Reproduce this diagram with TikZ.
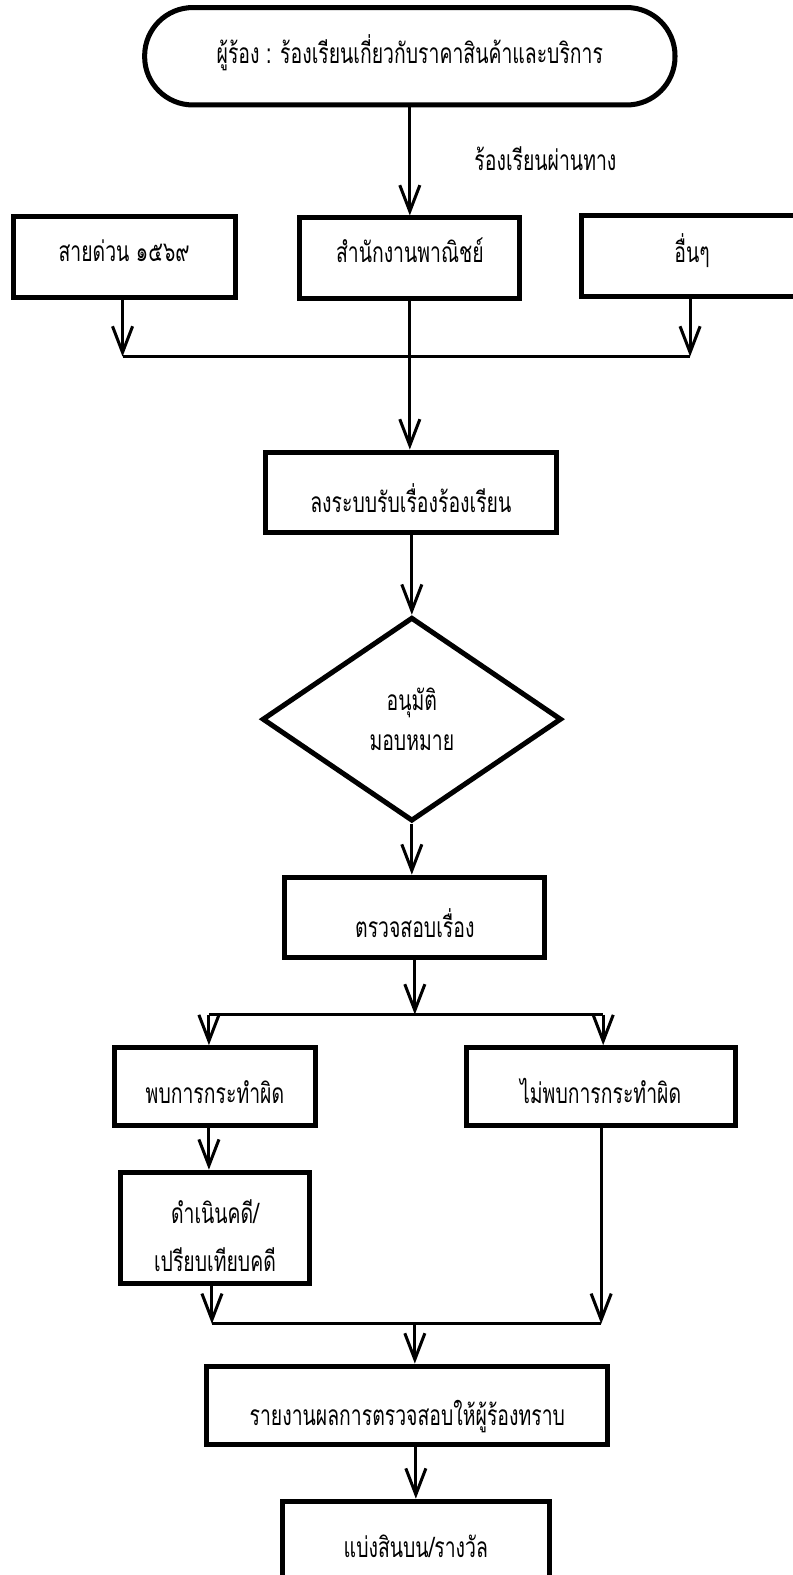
\documentclass[tikz,border=0pt]{standalone}
\usepackage{fontspec}
\newfontfamily\thaifont[Script=Thai,FakeStretch=0.69]{Loma}
\usetikzlibrary{arrows.meta,shapes.geometric}
\begin{document}
\begin{tikzpicture}[x=1pt,y=-1pt,
  txt/.style={font=\thaifont\fontsize{28}{40}\selectfont, align=center, inner sep=0pt},
  bl/.style={text height=#1, text depth=0pt},
  box/.style={txt,draw,line width=5pt,rectangle},
  conn/.style={line width=3pt},
  arr/.style={conn,-{Straight Barb[length=26pt,width=20pt,line width=3pt]}},
]
\useasboundingbox (0,0) rectangle (789,1568);
\node[box, rounded corners=48pt, minimum width=528pt, minimum height=97pt, bl=14pt] (start) at (408,56) {ผู้ร้อง : ร้องเรียนเกี่ยวกับราคาสินค้าและบริการ};
\node[txt, anchor=base] (via) at (543,170) {ร้องเรียนผ่านทาง};
\node[box, minimum width=221pt, minimum height=80pt, bl=9pt] (hot) at (123.5,256) {สายด่วน ๑๕๖๙};
\node[box, minimum width=219pt, minimum height=80pt, bl=8pt] (office) at (408,257) {สำนักงานพาณิชย์};
\node[box, minimum width=220pt, minimum height=80pt, bl=12pt] (other) at (689,255) {อื่นๆ};
\node[box, minimum width=290pt, minimum height=80pt, bl=41pt] (reg) at (409,490) {ลงระบบรับเรื่องร้องเรียน};
\node[txt, draw, diamond, line width=5pt, minimum width=298pt, minimum height=203pt, bl=63pt] (dec) at (410,716) {อนุมัติ\\มอบหมาย};
\node[box, minimum width=259pt, minimum height=79.5pt, bl=40pt] (chk) at (413,913) {ตรวจสอบเรื่อง};
\node[box, minimum width=200pt, minimum height=77pt, bl=34pt] (found) at (214,1081.5) {พบการกระทำผิด};
\node[box, minimum width=268pt, minimum height=77pt, bl=34pt] (nfound) at (598,1081.5) {ไม่พบการกระทำผิด};
\node[box, minimum width=187.5pt, minimum height=111pt, bl=86pt] (pros) at (214,1222.5) {ดำเนินคดี/\\[7pt]เปรียบเทียบคดี};
\node[box, minimum width=399pt, minimum height=78pt, bl=40pt] (rep) at (405.5,1399) {รายงานผลการตรวจสอบให้ผู้ร้องทราบ};
\node[box, minimum width=265.5pt, minimum height=90pt, bl=22pt] (last) at (414,1539.5) {แบ่งสินบน/รางวัล};

\coordinate (j1l) at (122,355);
\coordinate (j1r) at (687,355);
\coordinate (fk) at (413,1010);
\coordinate (fkl) at (208,1010);
\coordinate (fkr) at (600.5,1010);
\coordinate (mgl) at (211,1318);
\coordinate (mgr) at (598.5,1318);
\coordinate (mg) at (413,1318);

\draw[arr] (office.north |- start.south) -- (office.north);
\draw[arr] (hot.south -| j1l) -- (j1l);
\draw[arr] (other.south -| j1r) -- (j1r);
\draw[conn] (j1l) -- (j1r);
\draw[arr] (office.south) -- (office.south |- reg.north);
\draw[arr] (reg.south -| dec.north) -- (dec.north);
\draw[arr] (dec.south) -- (dec.south |- chk.north);
\draw[arr] (chk.south -| fk) -- (fk);
\draw[conn] (fkl) -- (fkr);
\draw[arr] (fkl) -- (fkl |- found.north);
\draw[arr] (fkr) -- (fkr |- nfound.north);
\draw[arr] (found.south -| fkl) -- (fkl |- pros.north);
\draw[arr] (pros.south -| mgl) -- (mgl);
\draw[arr] (nfound.south -| mgr) -- (mgr);
\draw[conn] (mgl) -- (mgr);
\draw[arr] (mg) -- (mg |- rep.north);
\draw[arr] (rep.south -| last.north) -- (last.north);
\end{tikzpicture}
\end{document}
